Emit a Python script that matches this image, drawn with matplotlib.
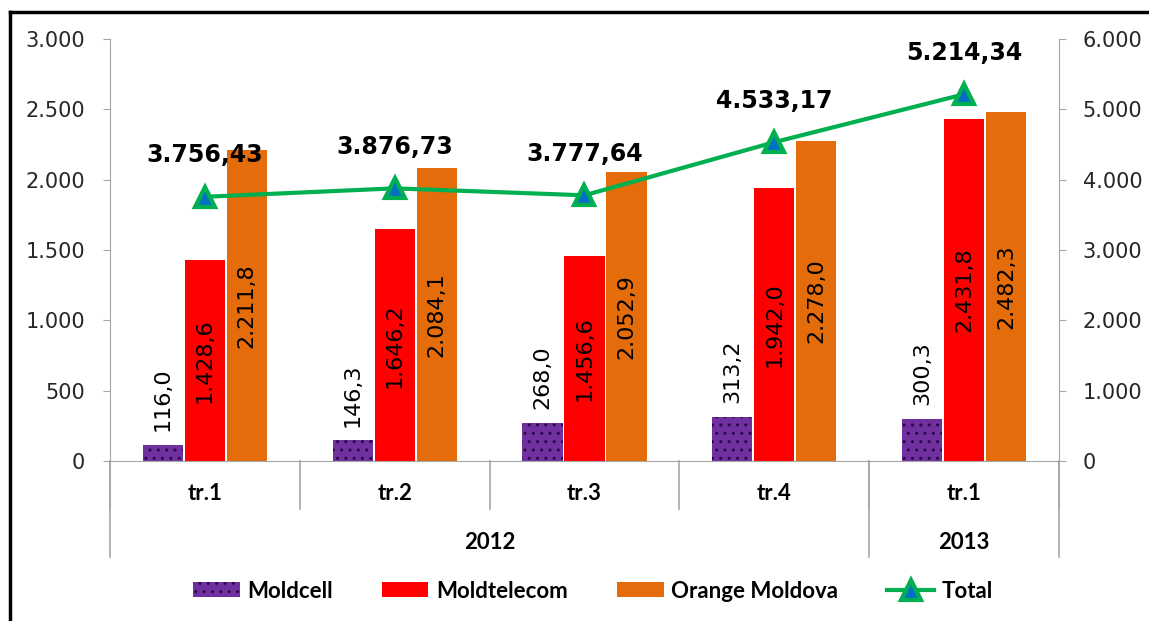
import matplotlib
matplotlib.use("Agg")
from matplotlib import pyplot as plt
from matplotlib.lines import Line2D
from matplotlib.patches import Patch
import matplotlib.transforms as mtransforms
import numpy as np

quarters = ["tr.1", "tr.2", "tr.3", "tr.4", "tr.1"]
years = ["2012", "2013"]
year_spans = [(0, 4), (4, 5)]
moldcell = [116.0, 146.3, 268.0, 313.2, 300.3]
moldtelecom = [1428.6, 1646.2, 1456.6, 1942.0, 2431.8]
orange = [2211.8, 2084.1, 2052.9, 2278.0, 2482.3]
total = [3756.43, 3876.73, 3777.64, 4533.17, 5214.34]

C_CELL = "#7030A0"
C_TEL = "#FF0000"
C_ORA = "#E46C0A"
C_LINE = "#00B050"
C_MARK = "#0070C0"
GRAY = "#A6A6A6"
TXT = "#262626"


def eu(v, d):
    s = f"{v:,.{d}f}"
    return s.replace(",", "X").replace(".", ",").replace("X", ".")


plt.rcParams["hatch.linewidth"] = 1.0
fig = plt.figure(figsize=(11.49, 6.21), dpi=100)
ax = fig.add_axes([0.0957, 0.2576, 0.8260, 0.6796])
ax2 = ax.twinx()

x = np.arange(len(quarters))
w = 0.212
off = 0.221

ax.bar(x - off, moldcell, w, color=C_CELL, edgecolor="#2a0845", linewidth=0, hatch="..")
ax.bar(x, moldtelecom, w, color=C_TEL, linewidth=0)
ax.bar(x + off, orange, w, color=C_ORA, linewidth=0)

for xi, v in zip(x, moldcell):
    ax.annotate(eu(v, 1), (xi - off, v), xytext=(0, 10), textcoords="offset points",
                rotation=90, ha="center", va="bottom", fontsize=16, color="black")
for xi, v in zip(x, moldtelecom):
    ax.text(xi, v / 2, eu(v, 1), rotation=90, ha="center", va="center",
            fontsize=16, color="black")
for xi, v in zip(x, orange):
    ax.text(xi + off, v / 2, eu(v, 1), rotation=90, ha="center", va="center",
            fontsize=16, color="black")

ax2.plot(x, total, color=C_LINE, lw=3, marker="^", ms=15, mfc=C_MARK,
         mec=C_LINE, mew=3, zorder=5)
for xi, v in zip(x, total):
    ax2.annotate(eu(v, 2), (xi, v), xytext=(0, 30), textcoords="offset points",
                 ha="center", va="center", fontsize=17, fontweight="bold", color="black")

ax.set_xlim(-0.5, 4.5)
ax.set_ylim(0, 3000)
ax2.set_ylim(0, 6000)
ax.set_yticks(np.arange(0, 3001, 500))
ax.set_yticklabels([eu(t, 0) for t in np.arange(0, 3001, 500)])
ax2.set_yticks(np.arange(0, 6001, 1000))
ax2.set_yticklabels([eu(t, 0) for t in np.arange(0, 6001, 1000)])
ax.set_xticks([])

for a in (ax, ax2):
    a.spines["top"].set_visible(False)
    a.spines["bottom"].set_color(GRAY)
ax.spines["right"].set_visible(False)
ax2.spines["left"].set_visible(False)
ax.spines["left"].set_color(GRAY)
ax2.spines["right"].set_color(GRAY)
ax2.spines["bottom"].set_visible(False)
ax.tick_params(axis="y", length=5, pad=13, color=GRAY, labelsize=15, labelcolor=TXT)
ax2.tick_params(axis="y", length=5, pad=12, color=GRAY, labelsize=15, labelcolor=TXT)

# category axis: separators and two label rows
trans = mtransforms.blended_transform_factory(ax.transData, ax.transAxes)
for b in np.arange(-0.5, 5.0, 1.0):
    ax.add_line(Line2D([b, b], [0, -0.114], transform=trans, color=GRAY, lw=1.2, clip_on=False))
for b in (-0.5, 3.5, 4.5):
    ax.add_line(Line2D([b, b], [0, -0.228], transform=trans, color=GRAY, lw=1.2, clip_on=False))
for xi, q in zip(x, quarters):
    ax.text(xi, -0.076, q, transform=trans, ha="center", va="center",
            fontsize=16, fontweight="bold", family="Lato", color="black")
for (a0, a1), yr in zip(year_spans, years):
    ax.text((a0 + a1) / 2 - 0.5, -0.192, yr, transform=trans, ha="center", va="center",
            fontsize=16, fontweight="bold", family="Lato", color="black")

handles = [
    Patch(facecolor=C_CELL, edgecolor="#2a0845", linewidth=0, hatch=".."),
    Patch(facecolor=C_TEL),
    Patch(facecolor=C_ORA),
    Line2D([], [], color=C_LINE, lw=3, marker="^", ms=14, mfc=C_MARK, mec=C_LINE, mew=3),
]
fig.legend(handles, ["Moldcell", "Moldtelecom", "Orange Moldova", "Total"],
           loc="center", bbox_to_anchor=(0.516, 0.048), ncol=4, frameon=False,
           prop={"family": "Lato", "weight": "bold", "size": 16},
           handlelength=2.1, handleheight=0.65, columnspacing=2.2, handletextpad=0.35)

# outer frame (left and top edges visible)
fig.add_artist(Line2D([0.0087, 0.0087], [0, 0.981], transform=fig.transFigure, color="black", lw=2.5))
fig.add_artist(Line2D([0.0087, 1], [0.981, 0.981], transform=fig.transFigure, color="black", lw=2.5))

fig.savefig("out.png", dpi=100)
